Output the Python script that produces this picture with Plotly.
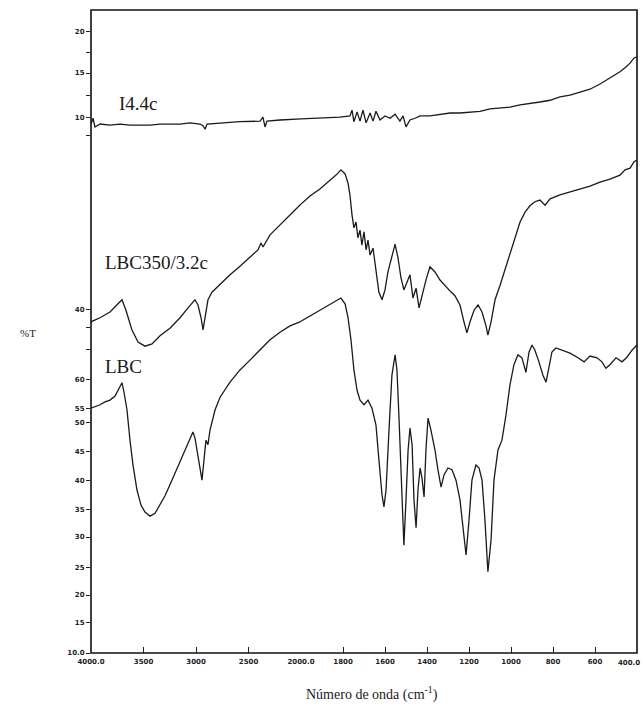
import plotly.graph_objects as go

# ---------------- data (wavenumber cm^-1, %T) ----------------
i44c_wn = [4000, 3981, 3962, 3914, 3819, 3724, 3629, 3533, 3438, 3343, 3248, 3152, 3057, 2962,
           2933, 2914, 2895, 2771, 2581, 2390, 2362, 2343, 2324, 2200, 2010, 2000,
           1910, 1814, 1767, 1757, 1748, 1733, 1719, 1705, 1690, 1671, 1657, 1643, 1624, 1600,
           1576, 1552, 1529, 1514, 1500, 1481, 1457, 1433, 1386, 1338, 1290, 1243, 1195, 1148,
           1100, 1052, 1005, 957, 910, 862, 814, 767, 719, 671, 624, 576, 529, 481, 457, 433,
           414, 400]
i44c_t = [101.2, 102.2, 100.7, 101.2, 101.0, 101.2, 101.0, 101.0, 101.0, 101.2, 101.2, 101.2, 101.4, 101.2,
          100.9, 100.3, 101.2, 101.4, 101.6, 101.7, 102.4, 100.7, 101.7, 101.9, 102.1, 102.1,
          102.2, 102.4, 102.6, 103.6, 101.6, 103.3, 101.7, 103.6, 101.4, 103.1, 101.7, 103.4, 101.9, 102.6,
          102.2, 102.9, 101.7, 102.6, 100.7, 101.9, 102.2, 102.6, 102.6, 102.9, 103.1, 103.1, 103.3, 103.4,
          103.8, 104.0, 104.1, 104.5, 104.7, 105.0, 105.3, 105.9, 106.2, 106.7, 107.2, 108.1, 109.1, 110.2, 110.9, 111.7,
          112.6, 112.8]

lbc350_wn = [4000, 3914, 3819, 3743, 3705, 3667, 3610, 3552, 3486, 3419, 3343, 3248, 3152, 3076,
             3010, 2981, 2952, 2933, 2914, 2886, 2848, 2771, 2676, 2581, 2486, 2410, 2381, 2362,
             2295, 2200, 2105, 2010, 2000, 1957, 1910, 1862, 1833, 1810, 1790, 1776, 1767, 1757,
             1748, 1738, 1729, 1719, 1710, 1700, 1690, 1681, 1671, 1657, 1643, 1629, 1614, 1600,
             1586, 1567, 1552, 1538, 1524, 1510, 1495, 1481, 1467, 1452, 1438, 1424, 1405, 1386,
             1362, 1338, 1314, 1290, 1267, 1243, 1224, 1210, 1195, 1176, 1157, 1138, 1119, 1110,
             1095, 1076, 1052, 1029, 1005, 981, 957, 933, 910, 886, 862, 838, 814, 767, 719, 671,
             624, 576, 529, 481, 457, 433, 414, 400]
lbc350_t = [67.1, 67.8, 68.8, 70.2, 70.9, 69.1, 65.7, 63.6, 62.9, 63.3, 64.7, 66.0, 67.8, 69.5,
            70.9, 70.0, 67.8, 65.7, 67.8, 70.9, 72.2, 73.6, 75.2, 76.7, 78.3, 79.5, 80.7, 80.0,
            82.1, 83.8, 85.5, 87.2, 87.4, 88.8, 90.0, 91.4, 92.4, 93.3, 92.6, 91.0, 89.0, 85.5,
            83.3, 84.3, 81.6, 82.9, 80.3, 82.6, 79.5, 81.2, 78.6, 79.8, 75.7, 72.2, 70.9, 72.6,
            75.7, 78.6, 80.5, 78.1, 74.7, 72.6, 73.8, 75.2, 71.2, 72.9, 69.5, 71.6, 74.3, 76.6,
            75.7, 74.3, 73.3, 72.4, 71.6, 70.0, 67.1, 65.2, 67.1, 69.1, 70.0, 68.8, 66.4, 64.8,
            67.1, 70.9, 73.4, 76.0, 79.0, 81.6, 84.3, 86.0, 87.1, 87.8, 88.1, 87.2, 88.3, 89.0, 89.5, 90.0,
            90.5, 91.2, 91.7, 92.4, 93.3, 93.6, 94.7, 95.0]

lbc_wn = [4000, 3914, 3867, 3819, 3771, 3743, 3705, 3686, 3657, 3629, 3600, 3562, 3524, 3486,
          3438, 3390, 3343, 3295, 3248, 3200, 3152, 3105, 3057, 3029, 3010, 2981, 2943, 2924,
          2905, 2886, 2867, 2819, 2771, 2676, 2581, 2486, 2390, 2295, 2200, 2105, 2010, 2000,
          1957, 1910, 1862, 1829, 1810, 1790, 1776, 1762, 1748, 1733, 1719, 1700, 1681, 1662,
          1643, 1629, 1614, 1605, 1595, 1581, 1567, 1552, 1543, 1533, 1519, 1510, 1500, 1490,
          1481, 1471, 1462, 1452, 1443, 1433, 1424, 1414, 1405, 1395, 1381, 1362, 1348, 1333,
          1319, 1300, 1281, 1262, 1243, 1229, 1214, 1200, 1186, 1167, 1152, 1138, 1124, 1110,
          1095, 1081, 1062, 1043, 1024, 1005, 986, 967, 948, 929, 914, 900, 886, 867, 848, 833,
          819, 805, 786, 757, 719, 681, 652, 624, 590, 567, 548, 529, 500, 471, 448, 424, 400]
lbc_t = [52.2, 52.8, 53.3, 53.6, 54.3, 55.3, 56.6, 55.0, 51.9, 46.7, 42.4, 38.1, 35.5, 34.3,
         33.6, 34.1, 35.5, 37.1, 39.0, 41.0, 42.9, 45.0, 47.1, 48.1, 47.1, 44.1, 39.8, 43.3,
         46.7, 45.9, 48.4, 51.9, 54.1, 56.7, 58.8, 60.5, 62.2, 64.0, 65.3, 66.4, 67.1, 67.2,
         68.1, 69.1, 70.2, 70.9, 71.2, 70.2, 67.8, 64.0, 58.8, 55.3, 53.6, 52.8, 53.6, 52.2,
         49.3, 43.3, 37.2, 35.2, 38.1, 48.4, 57.9, 61.4, 58.8, 50.2, 36.4, 28.6, 36.4, 45.0,
         48.8, 45.9, 36.4, 31.6, 38.1, 41.9, 40.2, 36.9, 45.0, 50.5, 48.4, 45.0, 41.6, 38.6,
         40.7, 41.9, 41.6, 39.8, 36.4, 31.2, 26.9, 32.9, 39.8, 42.4, 41.9, 39.8, 32.9, 24.0,
         29.5, 39.8, 45.0, 46.7, 51.0, 56.2, 59.7, 61.4, 60.9, 58.4, 61.9, 63.1, 62.2, 60.2, 57.9, 56.7,
         59.1, 61.9, 62.6, 62.2, 61.7, 60.9, 60.2, 61.2, 60.9, 60.2, 59.1, 59.7, 60.9, 60.2, 61.0, 62.2, 63.1]

series = [("I4.4c", i44c_wn, i44c_t), ("LBC350/3.2c", lbc350_wn, lbc350_t), ("LBC", lbc_wn, lbc_t)]

x1_ticks = [4000, 3500, 3000, 2500]
x1_text = ["4000.0", "3500", "3000", "2500"]
x2_ticks = [2000, 1800, 1600, 1400, 1200, 1000, 800, 600]
x2_text = ["2000.0", "1800", "1600", "1400", "1200", "1000", "800", "600"]
x_end_tick = 400
x_end_text = "400.0"

y_ticks = [117.1, 110.0, 102.4, 69.3, 57.2, 52.2, 49.8,
           44.7, 39.7, 34.8, 30.0, 24.8, 20.0, 15.2, 10.0]
y_text = ["20", "15", "10", "40", "60", "55", "50",
          "45", "40", "35", "30", "25", "20", "15", "10.0"]
y_minor_ticks = [113.6, 106.2, 99.3, 66.2, 62.4]

# ---------------- figure ----------------
fig = go.Figure()
line_style = dict(color="#1a1a1a", width=1.3)
for name, wn, t in series:
    hi = [(w, v) for w, v in zip(wn, t) if w >= 2000]
    lo = [(w, v) for w, v in zip(wn, t) if w <= 2000]
    fig.add_trace(go.Scatter(x=[p[0] for p in hi], y=[p[1] for p in hi], mode="lines",
                             line=line_style, xaxis="x", yaxis="y", showlegend=False, name=name))
    fig.add_trace(go.Scatter(x=[p[0] for p in lo], y=[p[1] for p in lo], mode="lines",
                             line=line_style, xaxis="x2", yaxis="y", showlegend=False, name=name))

tickfont = dict(size=7, family="DejaVu Sans", color="#222", weight="bold")
split = 210 / 546
fig.update_layout(
    width=644, height=708,
    margin=dict(l=91, r=7, t=10, b=55, autoexpand=False),
    paper_bgcolor="white", plot_bgcolor="white",
    xaxis=dict(domain=[0, split], range=[4000, 2000], tickvals=x1_ticks, ticktext=x1_text,
               ticks="inside", ticklen=6, tickcolor="#222", tickfont=tickfont,
               ticklabelstandoff=3, ticklabeloverflow="allow", automargin=False,
               showgrid=False, zeroline=False, showline=False, anchor="y"),
    xaxis2=dict(domain=[split, 1], range=[2000, 400], tickvals=x2_ticks, ticktext=x2_text,
                ticks="inside", ticklen=6, tickcolor="#222", tickfont=tickfont,
                ticklabelstandoff=3, ticklabeloverflow="allow", automargin=False,
                minor=dict(tickmode="array", tickvals=[x_end_tick], ticks="inside",
                           ticklen=6, tickcolor="#222", showgrid=False),
                showgrid=False, zeroline=False, showline=False, anchor="y"),
    yaxis=dict(range=[10, 10 + 643 / 5.8], tickvals=y_ticks, ticktext=y_text,
               ticks="outside", ticklen=4, tickcolor="#222", tickfont=tickfont,
               ticklabeloverflow="allow", automargin=False,
               minor=dict(tickmode="array", tickvals=y_minor_ticks, ticks="outside",
                          ticklen=4, tickcolor="#222", showgrid=False),
               showgrid=False, zeroline=False, showline=False),
    shapes=[dict(type="rect", xref="paper", yref="paper", x0=0, y0=0, x1=1, y1=1,
                 line=dict(color="#111", width=1.6))],
)

# end tick label kept inside the page
fig.add_annotation(x=(642 - 91) / 546, y=-(663 - 653) / 643, xref="paper", yref="paper",
                   text=x_end_text, showarrow=False, font=tickfont,
                   xanchor="right", yanchor="middle")

label_font = dict(family="Liberation Serif", size=19, color="#1a1a1a")
fig.add_annotation(x=(117 - 91) / 546, y=(653 - 103) / 643, xref="paper", yref="paper",
                   text="I4.4c", showarrow=False, font=label_font, xanchor="left", yanchor="middle")
fig.add_annotation(x=(103 - 91) / 546, y=(653 - 262) / 643, xref="paper", yref="paper",
                   text="LBC350/3.2c", showarrow=False, font=label_font, xanchor="left", yanchor="middle")
fig.add_annotation(x=(103 - 91) / 546, y=(653 - 366) / 643, xref="paper", yref="paper",
                   text="LBC", showarrow=False, font=label_font, xanchor="left", yanchor="middle")
fig.add_annotation(x=-0.115, y=(653 - 333) / 643, xref="paper", yref="paper", text="%T",
                   showarrow=False, font=dict(family="Liberation Serif", size=11, color="#222"),
                   xanchor="center", yanchor="middle")
fig.add_annotation(x=(372 - 91) / 546, y=-(693 - 653) / 643, xref="paper", yref="paper",
                   text="Número de onda (cm<sup>-1</sup>)", showarrow=False,
                   font=dict(family="Liberation Serif", size=14, color="#1a1a1a"),
                   xanchor="center", yanchor="middle")

fig.write_html("out.html", config={"displayModeBar": False},
               post_script="document.body.style.margin='0';document.body.style.overflow='hidden';")
